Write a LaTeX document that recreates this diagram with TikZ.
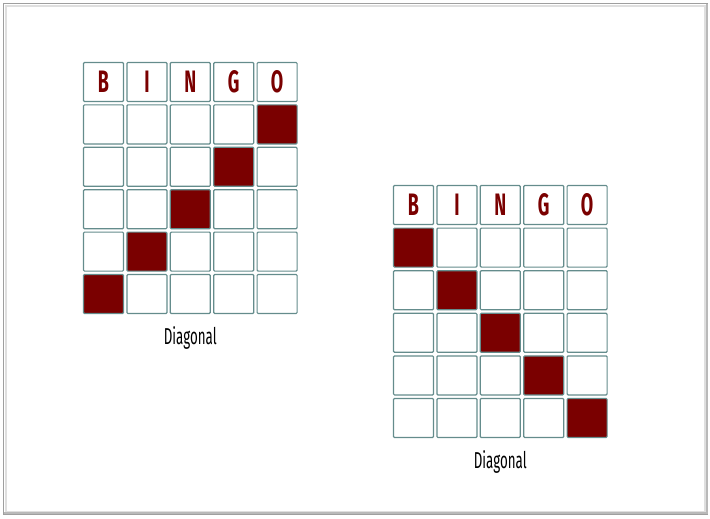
\documentclass[tikz,border=0pt]{standalone}
\usepackage{fontspec}
\usetikzlibrary{positioning}
\newfontfamily\bingofont[FakeStretch=0.58]{Fira Sans}
\definecolor{bingored}{RGB}{122,0,0}
\definecolor{cellline}{RGB}{100,140,140}

\begin{document}
\begin{tikzpicture}[
    x=1pt, y=-1pt,
    cell/.style={
        draw=cellline,
        line width=1.2pt,
        rounded corners=1pt,
        minimum width=40pt,
        minimum height=39pt,
        inner sep=0pt
    },
    letter/.style={cell, font=\bingofont\bfseries\fontsize{31}{31}\selectfont, text=bingored},
    caption/.style={font=\bingofont\fontsize{23}{23}\selectfont, inner sep=0pt}
]

% Stable crop.
\path[use as bounding box] (0,0) rectangle (710,519);

% --------------------------------------------------
% Frame with a soft shadow
% --------------------------------------------------
\draw[gray!25, line width=2pt] (6,6) rectangle (705,512);
\draw[gray!75, line width=1.2pt] (3.5,3.5) rectangle (707,514.5);
\draw[gray!55, line width=2pt] (4,513) -- (707,513) -- (707,4);

% --------------------------------------------------
% Left card: anti-diagonal
% --------------------------------------------------
\foreach \col/\ltr in {1/B,2/I,3/N,4/G,5/O}{
    \node[letter] (L-0-\col) at ({103.5+43.4*(\col-1)}, 82) {\ltr};
    \foreach \row in {1,...,5}{
        \pgfmathtruncatemacro{\anti}{6-\row}
        \ifnum\col=\anti \def\fillcol{bingored}\else\def\fillcol{white}\fi
        \node[cell, fill=\fillcol] (L-\row-\col) at ({103.5+43.4*(\col-1)}, {82+42.4*\row}) {};
    }
}
\node[caption, below=12pt of L-5-3] (lcap) {Diagonal};

% --------------------------------------------------
% Right card: main diagonal
% --------------------------------------------------
\foreach \col/\ltr in {1/B,2/I,3/N,4/G,5/O}{
    \node[letter] (R-0-\col) at ({413.5+43.4*(\col-1)}, 205) {\ltr};
    \foreach \row in {1,...,5}{
        \ifnum\col=\row \def\fillcol{bingored}\else\def\fillcol{white}\fi
        \node[cell, fill=\fillcol] (R-\row-\col) at ({413.5+43.4*(\col-1)}, {205+42.6*\row}) {};
    }
}
\node[caption, below=12pt of R-5-3] (rcap) {Diagonal};

\end{tikzpicture}
\end{document}
